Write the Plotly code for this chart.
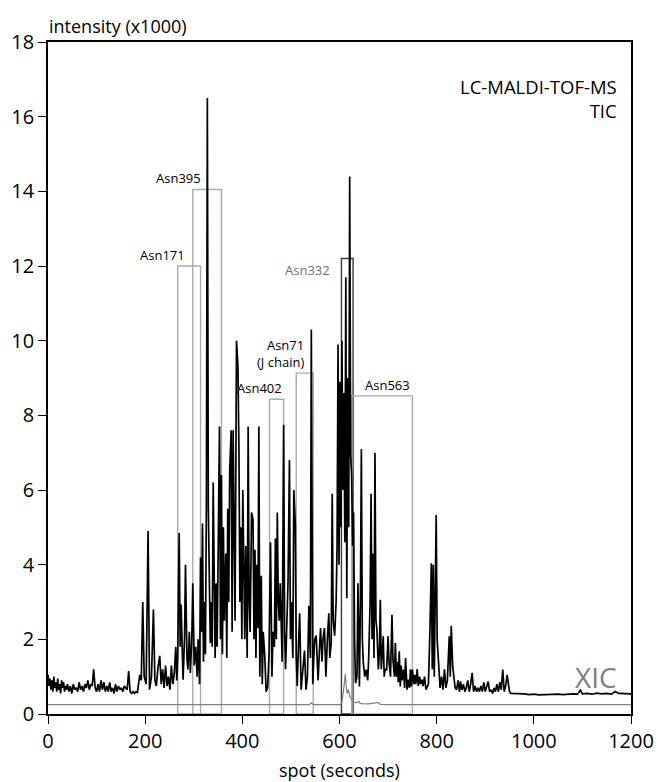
import plotly.graph_objects as go

# ---------------- data ----------------
# TIC trace: (spot seconds, intensity x1000) pairs, in segments
tic_pre = [(0,1.05),(2,0.75),(4,0.95),(6,0.65),(8,0.9),(10,0.6),(12,1.0),(14,0.7),(16,0.85),(18,0.6),
           (20,0.95),(22,0.65),(24,0.8),(26,0.55),(28,0.9),(30,0.7),(32,0.85),(34,0.6),(36,0.75),(38,0.65),
           (40,0.8),(43,0.6),(46,0.75),(49,0.55),(52,0.8),(55,0.65),(58,0.7),(61,0.6),(64,0.85),(67,0.65),
           (70,0.75),(73,0.6),(76,0.8),(79,0.7),(82,0.9),(85,0.65),(88,0.8),(91,0.75),(94,1.2),(97,0.7),
           (100,0.6),(103,0.8),(106,0.6),(109,0.9),(112,0.65),(115,0.85),(118,0.6),(121,0.75),(124,0.6),
           (127,0.85),(130,0.6),(133,0.7),(136,0.55),(139,0.8),(142,0.6),(145,0.75),(148,0.65),(151,0.7),
           (154,0.6),(157,0.75),(160,0.7),(163,0.65),(166,1.15),(169,0.6),(172,0.55),(175,0.6),(178,0.55),
           (181,0.6),(184,0.58),(187,0.8)]
tic_rise = [(189,1.05),(192,0.9),(195,3.0),(198,1.0),(202,0.8),(206,4.9),(209,0.65),(213,1.0),(217,2.8),
            (220,0.9),(223,0.75),(226,1.2),(230,1.56),(233,0.8),(236,1.2),(239,0.7),(242,1.3),(245,0.75),
            (248,1.0),(251,0.65),(254,1.3),(257,0.8),(260,1.1),(263,1.8),(265,0.9)]
tic_a = [(267,1.5),(270,4.85),(272,1.8),(274,2.93),(276,1.9),(278,0.92),(281,2.0),(283,4.0),(286,1.5),
         (288,1.19),(291,2.2),(293,1.1),(296,2.0),(298,3.5),(301,1.3),(304,1.8),(307,1.0),(309,2.0),
         (312,0.8),(314,4.2),(316,2.2),(318,5.1),(320,1.4),(322,3.0),(324,1.6),(326,5.6),(328,16.5)]
tic_b = [(330,5.5),(332,3.7),(334,1.9),(336,3.0),(338,1.8),(340,6.2),(342,2.5),(344,1.5),(346,3.5),
         (348,1.8),(350,4.0),(353,7.7),(355,2.0),(357,6.4),(359,1.6),(361,5.0),(363,2.5),(366,4.3),
         (368,1.5),(370,5.5),(372,3.0),(374,6.5),(377,7.6),(379,2.2),(381,7.6),(383,4.3),(385,2.5),
         (388,10.0),(391,9.3),(393,7.1),(395,3.0),(397,5.0),(399,2.0),(401,6.0),(403,3.5),(405,2.0),
         (407,4.5),(410,1.5),(412,7.7),(414,3.0),(416,2.2),(419,5.4),(422,5.2),(424,2.0),(426,4.4),
         (428,1.5),(430,4.0),(432,2.3),(434,7.7),(436,1.0),(439,3.7),(441,0.8),(443,2.2),(446,1.6),
         (449,0.6),(452,0.7)]
tic_c = [(455,1.6),(458,4.6),(461,1.0),(463,2.2),(466,1.8),(468,4.7),(470,2.0),(472,5.4),(474,3.0),
         (476,2.5),(478,3.5),(480,1.8),(482,1.4),(485,7.75),(487,2.2),(489,1.2),(492,2.5),(494,3.5),
         (497,6.8),(499,2.0),(501,3.0),(504,1.5),(506,6.0),(509,5.1),(511,1.5),(513,0.75),(516,2.0),
         (518,2.7),(521,0.65),(524,1.2),(528,1.7),(531,0.65),(534,1.0),(537,2.9),(540,1.5),(542,10.3),
         (545,0.8),(547,1.5),(549,2.0),(552,2.1),(554,1.2),(556,0.9),(559,1.8),(561,2.3),(564,1.4),
         (566,2.0),(569,2.3),(572,1.0),(575,2.0),(578,2.7),(580,1.5),(583,1.9),(585,5.9),(587,2.5),
         (590,2.1),(593,3.0)]
tic_d = [(595,4.5),(597,9.9),(599,4.0),(601,8.9),(603,5.0),(605,10.0),(607,6.0),(609,8.6),(611,4.6),
         (613,11.7),(615,3.1),(617,9.0),(619,5.0),(621,14.4),(623,6.9),(625,6.4),(627,4.5),(629,5.4),
         (631,2.0),(633,0.83),(636,1.0),(638,3.5),(641,0.74),(643,3.0),(645,7.1),(647,2.0),(649,1.37)]
tic_e = [(652,1.0),(655,1.19),(658,0.9),(660,1.46),(663,3.0),(665,5.9),(667,2.0),(669,4.3),(671,1.5),
         (673,7.0),(675,2.5),(677,2.26),(680,1.19),(682,1.6),(684,3.06),(686,1.2),(688,1.63),(690,2.08),
         (692,1.0),(694,1.2),(697,1.19),(700,2.08),(702,1.37),(705,1.0),(708,2.66),(710,1.46),(713,1.0),
         (715,1.9),(717,1.0),(719,1.4),(721,0.85),(723,1.68),(725,0.74),(727,1.3),(729,0.9),(732,1.19),
         (734,0.7),(736,1.5),(739,0.65),(741,0.92),(744,0.7),(746,1.2),(748,0.74),(750,1.19),(753,0.8),
         (755,1.05),(757,0.8),(760,1.2),(762,0.75),(765,1.0),(767,0.8),(770,0.92),(772,0.75),(775,1.0),
         (778,0.65),(780,0.7)]
tic_f = [(783,0.8),(786,2.17),(789,4.04),(791,1.2),(793,4.0),(795,1.0),(797,3.0),(799,5.33),(801,2.0),
         (804,1.32),(807,0.7),(810,1.0),(813,0.65),(816,1.2),(819,0.7),(822,0.9),(824,1.5),(826,2.08),
         (828,1.0),(830,2.36),(833,1.28),(835,1.0),(838,0.7),(841,0.65),(844,0.9),(847,0.6),(849,0.87),
         (852,0.65),(855,0.8),(858,0.6),(861,0.7),(864,0.9),(867,0.6),(870,0.8),(873,1.1),(876,0.6),
         (879,0.75),(882,0.6),(885,0.7),(888,0.6),(891,0.75),(894,0.6),(897,0.85),(900,0.6),(903,0.75),
         (906,0.87),(909,0.6),(912,0.65),(915,0.55),(918,0.7),(921,0.6),(924,0.8),(927,0.6),(930,0.85),
         (933,0.65),(936,1.19),(939,0.6),(942,0.75),(945,1.05),(947,0.9),(950,0.6),(953,0.55),(956,0.55)]
tic_tail = [(960,0.55),(970,0.53),(980,0.54),(990,0.52),(1000,0.53),(1010,0.51),(1020,0.52),(1030,0.53),
            (1040,0.52),(1050,0.53),(1060,0.52),(1070,0.53),(1080,0.54),(1090,0.53),(1096,0.64),(1100,0.54),
            (1110,0.55),(1120,0.53),(1130,0.56),(1140,0.54),(1150,0.55),(1160,0.53),(1167,0.6),(1175,0.55),
            (1185,0.54),(1200,0.54)]

# XIC trace
xic = [(0,0.25),(538,0.25),(542,0.3),(546,0.25),(602,0.25),(605,0.32),(608,0.6),(610,0.85),(612,1.07),
       (614,0.7),(616,0.55),(618,0.65),(620,0.5),(622,0.45),(624,0.4),(626,0.35),(630,0.32),(635,0.3),
       (640,0.34),(642,0.29),(646,0.28),(660,0.27),(680,0.31),(682,0.27),(686,0.26),(700,0.25),(1200,0.25)]

# glycosylation-site windows
glyco_sites = ["Asn171", "Asn395", "Asn402", "Asn71<br>(J chain)", "Asn332", "Asn563"]
box_start = [267, 298, 456, 511, 604, 625]
box_end = [314, 357, 485, 546, 628, 750]
box_top = [12.0, 14.05, 8.43, 9.13, 12.2, 8.52]

x_ticks = [0, 200, 400, 600, 800, 1000, 1200]
y_ticks = [0, 2, 4, 6, 8, 10, 12, 14, 16, 18]

# ---------------- figure ----------------
tic = tic_pre + tic_rise + tic_a + tic_b + tic_c + tic_d + tic_e + tic_f + tic_tail
tic_x = [p[0] for p in tic]
tic_y = [p[1] for p in tic]
xic_x = [p[0] for p in xic]
xic_y = [p[1] for p in xic]

FONT = "Open Sans"
GRAY = "#aaaaaa"
DARK = "#3a3a3a"

fig = go.Figure()

# boxes (drawn below traces)
box_colors = [GRAY, GRAY, GRAY, GRAY, DARK, GRAY]
for s, e, t, c in zip(box_start, box_end, box_top, box_colors):
    fig.add_shape(type="rect", xref="x", yref="y", x0=s, x1=e, y0=0, y1=t,
                  line=dict(color=c, width=1.4), fillcolor="rgba(0,0,0,0)", layer="below")

fig.add_trace(go.Scatter(x=xic_x, y=xic_y, mode="lines",
                         line=dict(color="#808080", width=1.2), hoverinfo="skip", showlegend=False))
fig.add_trace(go.Scatter(x=tic_x, y=tic_y, mode="lines",
                         line=dict(color="#000000", width=1.7), hoverinfo="skip", showlegend=False))

# label placement (style: anchor positions relative to boxes)
label_style = [
    dict(x=box_start[0] + 20, y=box_top[0], xanchor="right", yanchor="bottom", color="#000"),
    dict(x=box_start[1] + 20, y=box_top[1], xanchor="right", yanchor="bottom", color="#000"),
    dict(x=box_end[2], y=box_top[2], xanchor="right", yanchor="bottom", color="#000"),
    dict(x=box_end[3] - 14, y=box_top[3], xanchor="right", yanchor="bottom", color="#000"),
    dict(x=box_start[4] - 20, y=box_top[4], xanchor="right", yanchor="top", color="#707070"),
    dict(x=box_end[5], y=box_top[5], xanchor="right", yanchor="bottom", color="#000"),
]
for name, st in zip(glyco_sites, label_style):
    fig.add_annotation(x=st["x"], y=st["y"], xref="x", yref="y", text=name, showarrow=False,
                       xanchor=st["xanchor"], yanchor=st["yanchor"], align="right",
                       font=dict(family=FONT, size=13, color=st["color"]))

fig.add_annotation(x=1176, y=17.2, xref="x", yref="y", text="LC-MALDI-TOF-MS<br>TIC", showarrow=False,
                   xanchor="right", yanchor="top", align="right",
                   font=dict(family=FONT, size=18.5, color="#000"))
fig.add_annotation(x=1176, y=1.0, xref="x", yref="y", text="XIC", showarrow=False,
                   xanchor="right", yanchor="middle", font=dict(family=FONT, size=28, color="#808080"))
fig.add_annotation(x=0, y=1, xref="paper", yref="paper", text="intensity (x1000)", showarrow=False,
                   xanchor="left", yanchor="bottom", yshift=2, xshift=-1,
                   font=dict(family=FONT, size=18, color="#000"))
fig.add_annotation(x=0.5, y=0, xref="paper", yref="paper", text="spot (seconds)", showarrow=False,
                   xanchor="center", yanchor="top", yshift=-42,
                   font=dict(family=FONT, size=18, color="#000"))

axis_common = dict(showline=True, linecolor="#000", linewidth=1.6, mirror=True, showgrid=False,
                   zeroline=False, ticks="outside", ticklen=8, tickwidth=1.4, tickcolor="#000",
                   tickfont=dict(family=FONT, size=20, color="#000"))
fig.update_xaxes(range=[0, 1200], tickvals=x_ticks, **axis_common)
fig.update_yaxes(range=[0, 18], tickvals=y_ticks, **axis_common)

fig.update_layout(width=658, height=782, plot_bgcolor="#fff", paper_bgcolor="#fff",
                  margin=dict(l=48, r=27, t=42, b=68, autoexpand=False), showlegend=False)

fig.write_html("out.html", config={"displayModeBar": False},
               post_script="document.body.style.margin='0';document.body.style.overflow='hidden';")
